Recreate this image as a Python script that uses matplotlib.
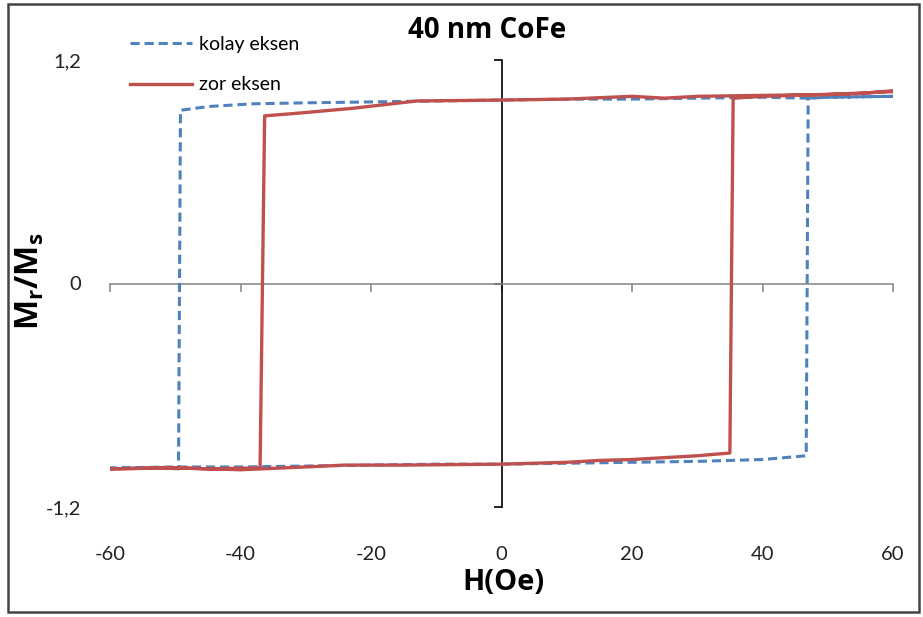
import matplotlib.pyplot as plt
from matplotlib.patches import Rectangle

# kolay eksen (easy axis) - blue dashed loop
kolay_H_down = [60, 50, 47.0, 40, 30, 20, 10, 0, -10, -20, -30, -38, -45, -49.2, -49.5, -55, -60]
kolay_M_down = [1.005, 1.0, 0.995, 1.0, 0.995, 0.99, 0.99, 0.985, 0.98, 0.975, 0.97, 0.965, 0.95, 0.93, -0.995, -0.99, -0.995]
kolay_H_up = [-60, -50, -40, -30, -20, -10, 0, 10, 20, 30, 40, 46.7, 47.0, 50, 60]
kolay_M_up = [-0.99, -0.985, -0.985, -0.98, -0.975, -0.97, -0.97, -0.965, -0.96, -0.955, -0.945, -0.925, 0.995, 1.0, 1.005]

# zor eksen (hard axis) - red solid loop
zor_H_down = [60, 55, 50, 40, 30, 25, 20, 10, 0, -13, -23, -31, -36.3, -37.0, -45, -50, -60]
zor_M_down = [1.035, 1.02, 1.015, 1.01, 1.005, 0.995, 1.005, 0.99, 0.985, 0.98, 0.94, 0.915, 0.90, -0.99, -0.995, -0.99, -0.995]
zor_H_up = [-60, -50, -40, -30, -24, -15, 0, 10, 15, 20, 30, 35.0, 35.5, 40, 50, 60]
zor_M_up = [-0.995, -0.99, -1.0, -0.985, -0.975, -0.975, -0.97, -0.96, -0.95, -0.945, -0.925, -0.91, 0.995, 1.005, 1.015, 1.03]

xticks = [-60, -40, -20, 0, 20, 40, 60]
yticks = [-1.2, 0, 1.2]
ytick_labels = ["-1,2", "0", "1,2"]

blue = "#4F81BD"
red = "#C0504D"

plt.rcParams['font.family'] = ['Lato', 'DejaVu Sans']
plt.rcParams['axes.unicode_minus'] = False

fig = plt.figure(figsize=(9.23, 6.17), dpi=100)
pos = [110/923, 1-507/617, (893-110)/923, (507-60)/617]

# labels axes (Excel puts labels at the low end)
axl = fig.add_axes(pos)
axl.set_xlim(-60, 60)
axl.set_ylim(-1.2, 1.2)
for s in axl.spines.values():
    s.set_visible(False)
axl.set_xticks(xticks)
axl.set_yticks(yticks)
axl.set_yticklabels(ytick_labels)
axl.tick_params(length=0, labelsize=14.5, colors="#222222")
axl.tick_params(axis='x', pad=28)
axl.tick_params(axis='y', pad=21)
axl.patch.set_visible(False)

ax = fig.add_axes(pos)
ax.set_xlim(-60, 60)
ax.set_ylim(-1.2, 1.2)
ax.patch.set_visible(False)
ax.spines['top'].set_visible(False)
ax.spines['right'].set_visible(False)
ax.spines['bottom'].set_position(('data', 0))
ax.spines['left'].set_position(('data', 0))
ax.spines['bottom'].set_color("#8C8C8C")
ax.spines['left'].set_color("black")
ax.spines['bottom'].set_linewidth(1.2)
ax.spines['left'].set_linewidth(1.2)
ax.set_xticks(xticks)
ax.set_yticks(yticks)
ax.tick_params(axis='x', direction='out', length=6, width=1.2, color="#8C8C8C",
               labelbottom=False)
ax.tick_params(axis='y', direction='out', length=6, width=1.2, color="black",
               labelleft=False)

ax.plot(kolay_H_down + kolay_H_up, kolay_M_down + kolay_M_up, color=blue,
        lw=2.2, ls=(0, (3, 1.6)), label="kolay eksen", zorder=3)
ax.plot(zor_H_down + zor_H_up, zor_M_down + zor_M_up, color=red,
        lw=2.4, label="zor eksen", zorder=4)

fig.legend(loc='upper left', bbox_to_anchor=(130/923, 1-36/617), frameon=False,
           fontsize=14, handlelength=3.2, handletextpad=0.35, labelspacing=1.2,
           borderpad=0, borderaxespad=0)

bold_font = ['Open Sans', 'DejaVu Sans']
fig.text(487/923, 1-30/617, "40 nm CoFe", ha='center', va='center',
         fontsize=20, fontweight='bold', family=bold_font)
fig.text(503/923, 1-583/617, "H(Oe)", ha='center', va='center',
         fontsize=21, fontweight='bold', family=bold_font)
fig.text(30/923, 1-281/617, r"M$_\mathregular{r}$/M$_\mathregular{s}$", ha='center',
         va='center', rotation=90, fontsize=23, fontweight='bold', family=bold_font)

fig.patches.append(Rectangle((8/923, 1-612/617), (919-8)/923, (612-4)/617,
                             transform=fig.transFigure, fill=False,
                             edgecolor="#444444", lw=1.8))

fig.savefig("out.png", dpi=100, facecolor="white")
